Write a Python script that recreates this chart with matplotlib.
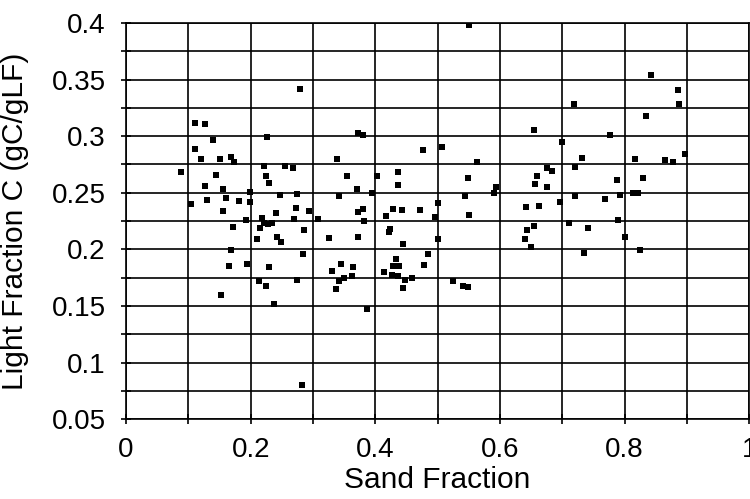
import matplotlib
matplotlib.use("Agg")
import matplotlib.pyplot as plt
from matplotlib.ticker import MultipleLocator, FormatStrFormatter

plt.rcParams['font.family'] = ['Liberation Sans', 'DejaVu Sans']

# sand fraction / light fraction C
sand = [
    0.279, 0.111, 0.127, 0.140, 0.227, 0.110, 0.121, 0.151, 0.169, 0.174,
    0.222, 0.255, 0.268, 0.089, 0.144, 0.224, 0.339, 0.551, 0.373, 0.381,
    0.655, 0.477, 0.507, 0.563, 0.355, 0.402, 0.437, 0.548, 0.660, 0.676,
    0.842, 0.885, 0.887, 0.719, 0.834, 0.776, 0.700, 0.732, 0.817, 0.865,
    0.878, 0.897, 0.720, 0.683, 0.788, 0.829, 0.230, 0.127, 0.155, 0.199,
    0.247, 0.275, 0.104, 0.130, 0.160, 0.182, 0.199, 0.155, 0.240, 0.273,
    0.293, 0.192, 0.218, 0.215, 0.222, 0.228, 0.235, 0.269, 0.308, 0.171,
    0.285, 0.210, 0.243, 0.248, 0.326, 0.169, 0.284, 0.165, 0.194, 0.230,
    0.331, 0.214, 0.225, 0.275, 0.337, 0.341, 0.152, 0.238, 0.282, 0.437,
    0.371, 0.394, 0.342, 0.594, 0.590, 0.544, 0.656, 0.676, 0.501, 0.373,
    0.380, 0.417, 0.428, 0.443, 0.472, 0.495, 0.551, 0.641, 0.662, 0.382,
    0.424, 0.422, 0.655, 0.644, 0.372, 0.444, 0.501, 0.640, 0.650, 0.485,
    0.345, 0.364, 0.433, 0.429, 0.438, 0.478, 0.349, 0.363, 0.414, 0.426,
    0.436, 0.448, 0.459, 0.444, 0.525, 0.541, 0.549, 0.387, 0.721, 0.768,
    0.793, 0.814, 0.821, 0.697, 0.710, 0.789, 0.742, 0.801, 0.735, 0.825,
]
light_c = [
    0.342, 0.312, 0.311, 0.297, 0.2995, 0.289, 0.2795, 0.280, 0.282, 0.277,
    0.274, 0.274, 0.272, 0.268, 0.266, 0.265, 0.280, 0.398, 0.303, 0.301,
    0.305, 0.288, 0.290, 0.277, 0.265, 0.265, 0.268, 0.263, 0.265, 0.272,
    0.354, 0.341, 0.328, 0.328, 0.318, 0.301, 0.295, 0.281, 0.280, 0.279,
    0.277, 0.284, 0.273, 0.269, 0.261, 0.263, 0.259, 0.256, 0.253, 0.251,
    0.248, 0.249, 0.240, 0.244, 0.245, 0.243, 0.2415, 0.2335, 0.232, 0.2365,
    0.234, 0.2256, 0.2274, 0.219, 0.2235, 0.222, 0.2235, 0.227, 0.227, 0.2194,
    0.217, 0.2094, 0.211, 0.2064, 0.210, 0.199, 0.196, 0.1855, 0.187, 0.1843,
    0.1808, 0.1717, 0.168, 0.1727, 0.165, 0.172, 0.1595, 0.152, 0.0806, 0.257,
    0.253, 0.250, 0.2473, 0.2553, 0.2495, 0.247, 0.258, 0.2553, 0.2413, 0.2327,
    0.2353, 0.2297, 0.236, 0.2344, 0.2347, 0.229, 0.230, 0.2376, 0.2382, 0.2247,
    0.218, 0.2155, 0.2205, 0.2175, 0.2108, 0.205, 0.2088, 0.209, 0.2017, 0.1955,
    0.1873, 0.184, 0.1914, 0.1852, 0.1855, 0.1864, 0.175, 0.1767, 0.1803, 0.1773,
    0.1767, 0.173, 0.175, 0.1657, 0.172, 0.1675, 0.167, 0.1475, 0.2473, 0.2447,
    0.2477, 0.250, 0.2495, 0.2415, 0.2235, 0.2259, 0.2185, 0.211, 0.1964, 0.199,
]

fig = plt.figure(figsize=(7.5, 4.99), dpi=100)
ax = fig.add_axes([0.168, 0.160, 0.831, 0.794])

ax.scatter(sand, light_c, marker='s', s=20, color='black', linewidths=0, zorder=3)

ax.set_xlim(0, 1)
ax.set_ylim(0.05, 0.4)
ax.xaxis.set_major_locator(MultipleLocator(0.2))
ax.xaxis.set_minor_locator(MultipleLocator(0.1))
ax.yaxis.set_major_locator(MultipleLocator(0.05))
ax.yaxis.set_minor_locator(MultipleLocator(0.025))
ax.xaxis.set_major_formatter(FormatStrFormatter('%g'))
ax.yaxis.set_major_formatter(FormatStrFormatter('%g'))

ax.grid(True, which='both', color='black', linewidth=1.2)
ax.set_axisbelow(True)
for s in ax.spines.values():
    s.set_linewidth(1.2)
    s.set_color('black')

ax.tick_params(which='both', direction='inout', length=7, width=1.2, labelsize=20)
ax.tick_params(axis='x', pad=9)
ax.tick_params(axis='y', pad=11)

ax.set_xlabel('Sand Fraction', fontsize=21.5)
ax.set_ylabel('Light Fraction C (gC/gLF)', fontsize=21.5)
ax.xaxis.set_label_coords(0.5, -0.118)
ax.yaxis.set_label_coords(-0.156, 0.5)

fig.savefig('out.png', dpi=100)
